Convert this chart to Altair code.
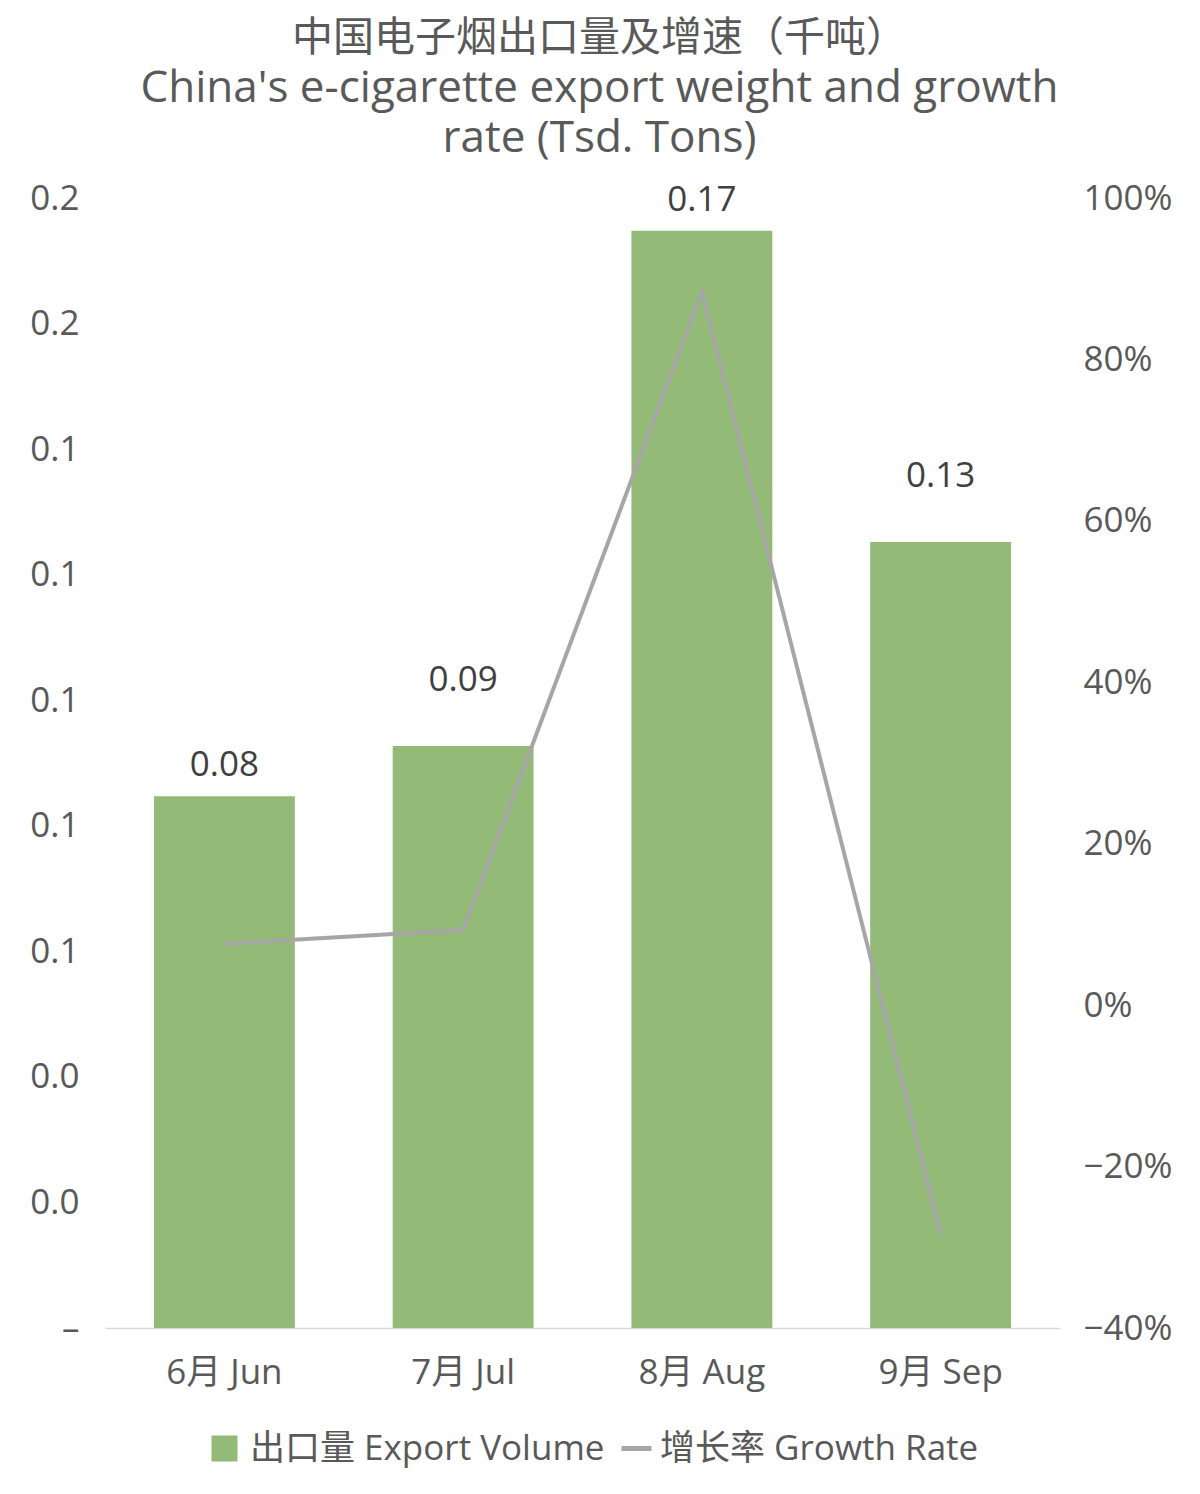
import altair as alt
import pandas as pd

# ---- data ----
months = ["6月 Jun", "7月 Jul", "8月 Aug", "9月 Sep"]
export_volume = [0.0847, 0.0927, 0.1748, 0.1252]   # thousand tons
growth_rate = [0.076, 0.093, 0.884, -0.284]          # month-on-month
left_ticks = [0, 0.02, 0.04, 0.06, 0.08, 0.10, 0.12, 0.14, 0.16, 0.18]
right_ticks = [-0.4, -0.2, 0.0, 0.2, 0.4, 0.6, 0.8, 1.0]
raised_labels = ["7月 Jul", "9月 Sep"]   # labels lifted clear of the line
bar_series = "出口量 Export Volume"
line_series = "增长率 Growth Rate"
title_cn = "中国电子烟出口量及增速（千吨）"
title_en = ["China's e-cigarette export weight and growth", "rate (Tsd. Tons)"]

df = pd.DataFrame({
    "month": months,
    "volume": export_volume,
    "growth": growth_rate,
    "s1": [bar_series] * len(months),
    "s2": [line_series] * len(months),
})

FONT = "Open Sans, Noto Sans CJK SC, sans-serif"
TXT = "#595959"
LBL = "#404040"
GREEN = "#93BA76"
GRAY = "#A6A6A6"
FS = 35

x_enc = alt.X(
    "month:N", sort=months,
    scale=alt.Scale(paddingInner=0.41, paddingOuter=0.205),
    axis=alt.Axis(title=None, labelAngle=0, labelFontSize=FS, labelColor=TXT,
                  labelFont=FONT, labelPadding=27, ticks=False, tickSize=0,
                  domainColor="#D9D9D9", domainWidth=1.5, grid=False),
)

y_left_scale = alt.Scale(domain=[0, 0.18], nice=False, zero=True)
left_axis = alt.Axis(title=None, orient="left", values=left_ticks,
                     labelExpr="datum.value == 0 ? '–' : format(datum.value, '.1f')",
                     labelFontSize=FS, labelColor=TXT, labelFont=FONT,
                     labelPadding=26, ticks=False, tickSize=0,
                     domain=False, grid=False)

bars = alt.Chart(df).mark_bar().encode(
    x=x_enc,
    y=alt.Y("volume:Q", scale=y_left_scale, axis=left_axis),
    fill=alt.Fill("s1:N", scale=alt.Scale(domain=[bar_series], range=[GREEN]),
                  legend=alt.Legend(title=None, orient="none", legendX=102, legendY=1233,
                                    symbolType="square", symbolSize=676,
                                    symbolStrokeWidth=0, labelFontSize=FS,
                                    labelColor=TXT, labelFont=FONT, labelLimit=1000,
                                    labelOffset=8)),
)

is_raised = alt.FieldOneOfPredicate(field="month", oneOf=raised_labels)

labels_low = alt.Chart(df).transform_filter(~is_raised).mark_text(
    baseline="middle", dy=-31, fontSize=FS, color=LBL, font=FONT).encode(
    x=x_enc,
    y=alt.Y("volume:Q", scale=y_left_scale, axis=left_axis),
    text=alt.Text("volume:Q", format=".2f"),
)

labels_high = alt.Chart(df).transform_filter(is_raised).mark_text(
    baseline="middle", dy=-66, fontSize=FS, color=LBL, font=FONT).encode(
    x=x_enc,
    y=alt.Y("volume:Q", scale=y_left_scale, axis=left_axis),
    text=alt.Text("volume:Q", format=".2f"),
)

line = alt.Chart(df).mark_line(strokeWidth=4).encode(
    x=x_enc,
    y=alt.Y("growth:Q", scale=alt.Scale(domain=[-0.4, 1.0], nice=False, zero=False),
            axis=alt.Axis(title=None, orient="right", values=right_ticks, format=".0%",
                          labelFontSize=FS, labelColor=TXT, labelFont=FONT,
                          labelPadding=23, ticks=False, tickSize=0,
                          domain=False, grid=False)),
    stroke=alt.Stroke("s2:N", scale=alt.Scale(domain=[line_series], range=[GRAY]),
                      legend=alt.Legend(title=None, orient="none", legendX=514, legendY=1233,
                                        symbolType="stroke", symbolSize=900,
                                        symbolStrokeWidth=5, labelFontSize=FS,
                                        labelColor=TXT, labelFont=FONT, labelLimit=1000,
                                        labelOffset=6)),
)

left = alt.layer(bars, labels_low, labels_high)

chart = alt.layer(left, line).resolve_scale(y="independent").properties(
    width=955, height=1130,
    title=alt.TitleParams(text=title_cn, fontSize=41, font=FONT, color=TXT,
                          fontWeight="normal", anchor="middle",
                          subtitle=title_en, subtitleFont=FONT, subtitleFontSize=44,
                          subtitleColor=TXT, subtitleLineHeight=50,
                          subtitlePadding=7, offset=19, dx=17),
    autosize=alt.AutoSizeParams(type="none"),
    padding={"left": 97, "top": 190, "right": 124, "bottom": 158},
).configure(background="white").configure_view(stroke=None, strokeWidth=0)

chart.save("out.html", embed_options={"renderer": "svg", "actions": False})
